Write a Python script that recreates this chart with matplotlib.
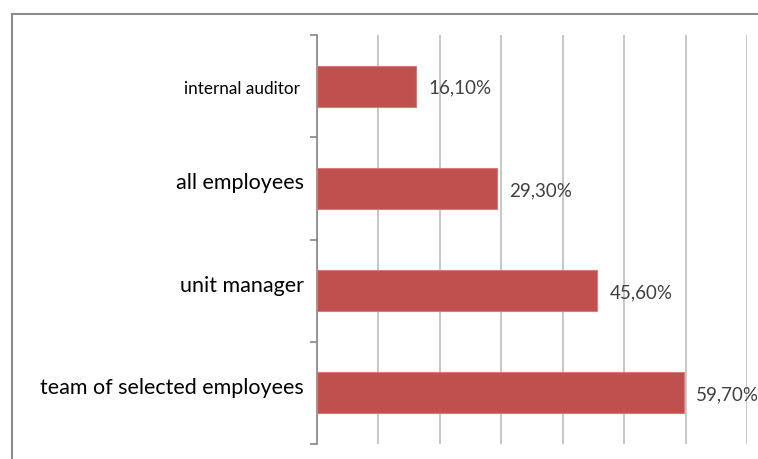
import matplotlib.pyplot as plt
from matplotlib.lines import Line2D

# data (bottom to top)
categories = ['team of selected employees', 'unit manager', 'all employees', 'internal auditor']
values = [59.7, 45.6, 29.3, 16.1]
value_labels = ['59,70%', '45,60%', '29,30%', '16,10%']

plt.rcParams['font.family'] = ['Lato', 'DejaVu Sans']

fig = plt.figure(figsize=(7.58, 4.59), dpi=100)
ax = fig.add_axes([317/758, 1 - 444/459, (747 - 317)/758, (444 - 35)/459])

y = range(len(categories))
ax.barh(y, values, height=0.4, color='#C0504D', edgecolor='#D77A78', linewidth=0.8, zorder=3)

for i, (v, lab) in enumerate(zip(values, value_labels)):
    ax.text(v + 2.0, i - 0.02, lab, va='center', ha='left', fontsize=13.5, color='#404040', zorder=4)

ax.set_xlim(0, 70)
ax.set_ylim(-0.5, len(categories) - 0.5)
ax.set_xticks(range(0, 71, 10))
ax.xaxis.grid(True, color='#BEBEBE', linewidth=1.2, zorder=0)
ax.tick_params(axis='x', length=0, labelbottom=False)

# category separators as ticks on the y axis
ax.set_yticks([i - 0.5 for i in range(len(categories) + 1)], minor=False)
ax.set_yticklabels([])
ax.tick_params(axis='y', length=5, color='#868686', width=1.2)
for i, c in enumerate(categories):
    if c == 'internal auditor':
        ax.text(-0.04, i - 0.03, c, transform=ax.get_yaxis_transform(), ha='right', va='center',
                fontsize=12.3, color='black')
    else:
        ax.text(-0.03, i + 0.05, c, transform=ax.get_yaxis_transform(), ha='right', va='center',
                fontsize=15.5, color='black')

for s in ['top', 'right', 'bottom']:
    ax.spines[s].set_visible(False)
ax.spines['left'].set_color('#868686')
ax.spines['left'].set_linewidth(1.2)

# outer chart border (cropped on right and bottom)
fig.add_artist(Line2D([11.5/758, 1], [1 - 13.5/459, 1 - 13.5/459], transform=fig.transFigure,
                      color='#8C8C8C', linewidth=1.5))
fig.add_artist(Line2D([11.5/758, 11.5/758], [0, 1 - 13.5/459], transform=fig.transFigure,
                      color='#8C8C8C', linewidth=1.5))

fig.savefig('out.png', dpi=100)
